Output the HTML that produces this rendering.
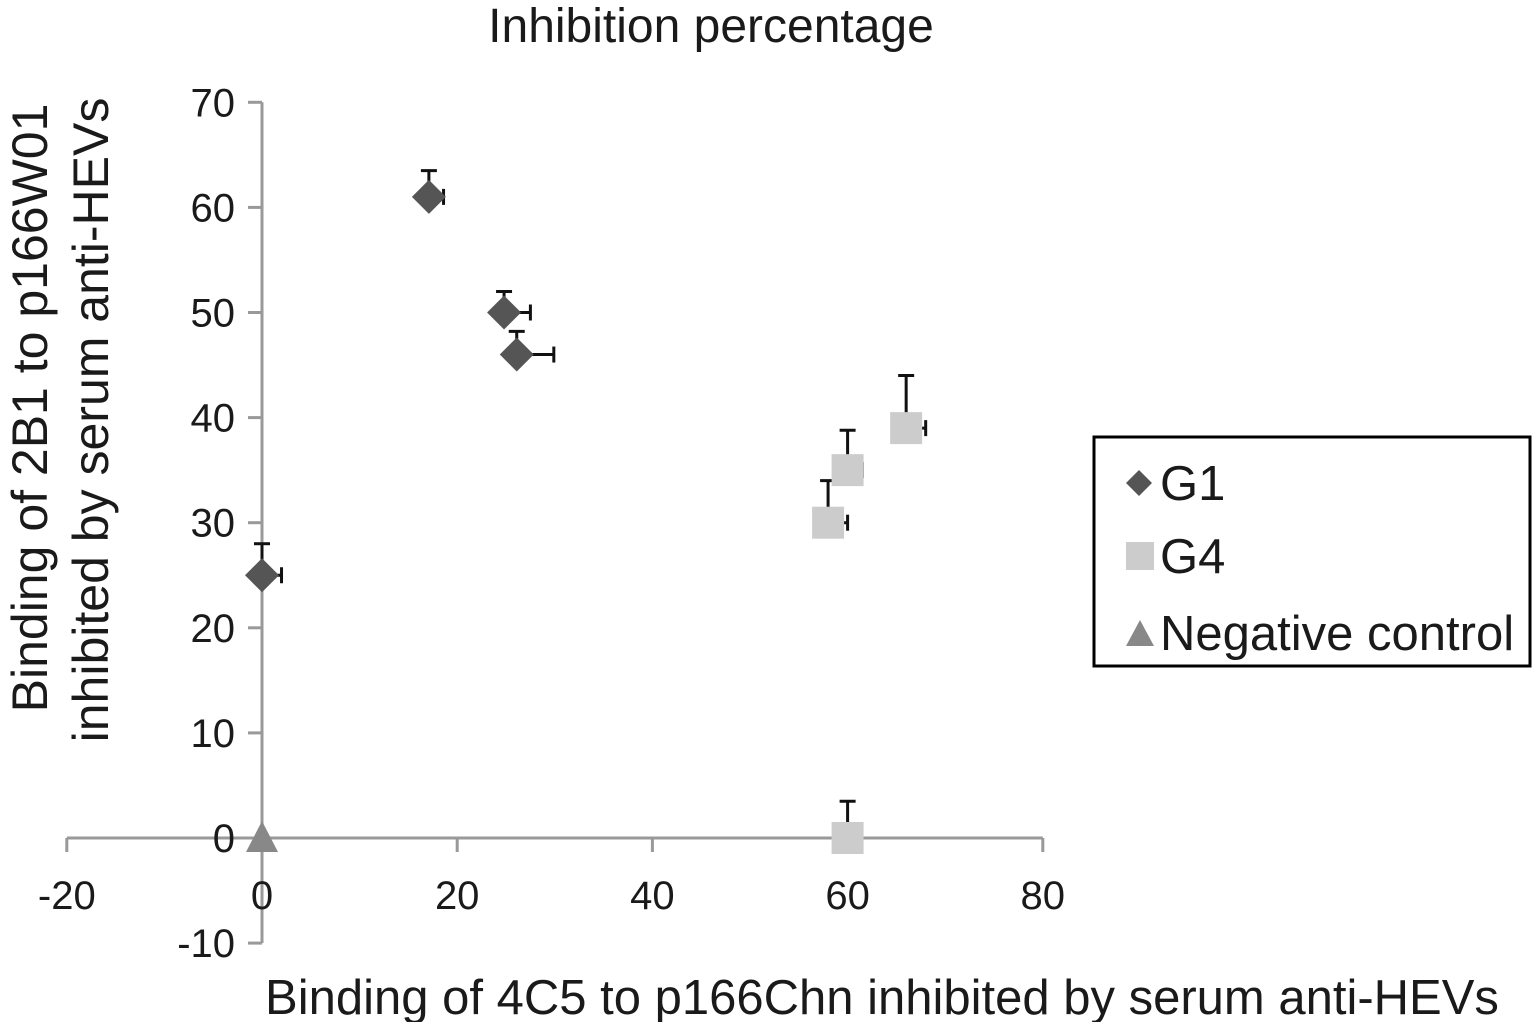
<!DOCTYPE html>
<html><head><meta charset="utf-8"><style>
body{margin:0;background:#fff;width:1537px;height:1022px;overflow:hidden}
svg text{font-family:"Liberation Sans",Arial,sans-serif;fill:#1a1a1a}
</style></head><body>
<svg id="chart" width="1537" height="1022">
<text x="711" y="42" font-size="48" text-anchor="middle">Inhibition percentage</text>
<g id="axes"></g>
<g id="marks"></g>
<text x="882" y="1014" font-size="49" text-anchor="middle">Binding of 4C5 to p166Chn inhibited by serum anti-HEVs</text>
<text transform="translate(47,408) rotate(-90)" font-size="50" text-anchor="middle">Binding of 2B1 to p166W01</text>
<text transform="translate(108,420) rotate(-90)" font-size="50" text-anchor="middle">inhibited by serum anti-HEVs</text>
<g>
<rect x="1094" y="437" width="436" height="229" fill="#fff" stroke="#000" stroke-width="3"/>
<g><polygon points="1139,470 1152,483 1139,496 1126,483" fill="#555"/><text x="1160" y="500" font-size="49">G1</text></g>
<g><rect x="1126" y="542" width="28" height="28" fill="#ccc"/><text x="1160" y="573" font-size="49">G4</text></g>
<g><polygon points="1140,620 1154,646 1126,646" fill="#888"/><text x="1160" y="650" font-size="49">Negative control</text></g>
</g>
</svg>
<script>
const xTicks=[-20,0,20,40,60,80];
const yTicks=[-10,0,10,20,30,40,50,60,70];
const g1X=[0,17.1,24.8,26.1];
const g1Y=[25,61,50,46];
const g1ErrX=[2,1.5,2.7,3.8];
const g1ErrY=[3,2.5,2,2.2];
const g4X=[58,60,66,60];
const g4Y=[30,35,39,0];
const g4ErrX=[2,1.5,2,0];
const g4ErrY=[4,3.8,5,3.5];
const negX=[0];
const negY=[0];
const sx=v=>262+(v)*9.76;
const sy=v=>838-(v)*10.51;
const NS="http://www.w3.org/2000/svg";
function mk(t,a,p){const e=document.createElementNS(NS,t);for(const k in a)e.setAttribute(k,a[k]);p.appendChild(e);return e;}
const axes=document.getElementById('axes'),marks=document.getElementById('marks');
let l=mk('line',{x1:sx(0),x2:sx(0),y1:sy(70),y2:sy(-10),stroke:'#999','stroke-width':3},axes);


l=mk('line',{x1:sx(-20),x2:sx(80),y1:sy(0),y2:sy(0),stroke:'#999','stroke-width':3},axes);


xTicks.forEach(v=>{mk('line',{x1:sx(v),x2:sx(v),y1:sy(0),y2:sy(0)+14,stroke:'#999','stroke-width':3},axes);
const t=mk('text',{x:sx(v),y:909,'font-size':40,'text-anchor':'middle'},axes);t.textContent=v;

});
yTicks.forEach(v=>{mk('line',{x1:sx(0)-14,x2:sx(0),y1:sy(v),y2:sy(v),stroke:'#999','stroke-width':3},axes);
const t=mk('text',{x:235,y:sy(v)+14,'font-size':40,'text-anchor':'end'},axes);t.textContent=v;

});
function err(x,y,ex,ey){
 if(ey>0){mk('line',{x1:sx(x),x2:sx(x),y1:sy(y),y2:sy(y+ey),stroke:'#111','stroke-width':3},marks);
 mk('line',{x1:sx(x)-8,x2:sx(x)+8,y1:sy(y+ey),y2:sy(y+ey),stroke:'#111','stroke-width':3},marks);}
 if(ex>0){mk('line',{x1:sx(x),x2:sx(x+ex),y1:sy(y),y2:sy(y),stroke:'#111','stroke-width':3},marks);
 mk('line',{x1:sx(x+ex),x2:sx(x+ex),y1:sy(y)-8,y2:sy(y)+8,stroke:'#111','stroke-width':3},marks);}
}
g1X.forEach((x,i)=>{err(x,g1Y[i],g1ErrX[i],g1ErrY[i]);const cx=sx(x),cy=sy(g1Y[i]);
const p=mk('polygon',{points:`${cx},${cy-17} ${cx+17},${cy} ${cx},${cy+17} ${cx-17},${cy}`,fill:'#555'},marks);

});
g4X.forEach((x,i)=>{err(x,g4Y[i],g4ErrX[i],g4ErrY[i]);const cx=sx(x),cy=sy(g4Y[i]);
const p=mk('rect',{x:cx-16,y:cy-16,width:32,height:32,fill:'#ccc'},marks);

});
negX.forEach((x,i)=>{const cx=sx(x),cy=sy(negY[i]);
const p=mk('polygon',{points:`${cx},${cy-17} ${cx+16},${cy+14} ${cx-16},${cy+14}`,fill:'#888'},marks);

});
</script>
</body></html>
